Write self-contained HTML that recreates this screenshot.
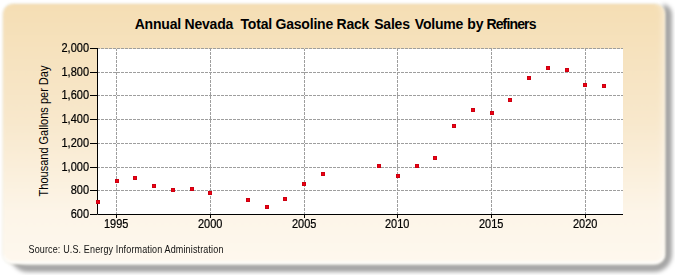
<!DOCTYPE html><html><head><meta charset="utf-8"><style>
*{margin:0;padding:0;box-sizing:border-box}
html,body{width:675px;height:275px;background:#fff;overflow:hidden;position:relative;font-family:"Liberation Sans",sans-serif}
.shadow{position:absolute;left:10px;top:4px;width:661.5px;height:268px;border-radius:10px 10px 18px 18px;border-style:solid;border-color:rgba(0,0,0,0.36);border-width:0 8px 8px 0;filter:blur(2.2px)}
.panel{position:absolute;left:2.5px;top:3.5px;width:662px;height:260.5px;border-radius:10px;
 background:linear-gradient(to bottom,#f5deb4 0%,#f8e8cc 45%,#fdf5e8 80%,#fef8ee 100%);
 box-shadow:inset 0 -2.5px 1.5px rgba(255,255,255,0.8),inset -7px 0 5px -3px rgba(255,255,255,0.3),0 0 0 1px rgba(170,165,120,0.18);filter:blur(1.3px)}
.tw{position:absolute;top:14.5px;font-weight:bold;font-size:14px;letter-spacing:-0.2px;color:#000;line-height:18px;white-space:nowrap}
.yl{position:absolute;right:586px;transform:scaleY(1.2);font-size:11px;line-height:14px;color:#000;white-space:nowrap;text-align:right;-webkit-text-stroke:0.2px #000}
.xl{position:absolute;width:40px;transform:scaleY(1.2);font-size:11px;line-height:14px;color:#000;white-space:nowrap;text-align:center;top:216px;-webkit-text-stroke:0.2px #000}
.ytitle{position:absolute;left:42.5px;top:130.5px;font-size:11px;line-height:14px;color:#000;white-space:nowrap;transform:translate(-50%,-50%) rotate(-90deg) scaleY(1.15)}
.src{position:absolute;left:28.5px;top:242.5px;font-size:9px;letter-spacing:0.14px;transform:scaleY(1.12);line-height:14px;color:#111;white-space:nowrap}
</style></head><body>
<div class="shadow"></div><div class="panel"></div>
<span class="tw" style="left:134.70px;">Annual</span>
<span class="tw" style="left:184.50px;">Nevada</span>
<span class="tw" style="left:240.50px;">Total</span>
<span class="tw" style="left:275.50px;">Gasoline</span>
<span class="tw" style="left:336.50px;">Rack</span>
<span class="tw" style="left:374.20px;">Sales</span>
<span class="tw" style="left:414.80px;">Volume</span>
<span class="tw" style="left:467.30px;">by</span>
<span class="tw" style="left:486.40px;letter-spacing:-0.85px;">Refiners</span>
<svg width="675" height="275" style="position:absolute;left:0;top:0"><rect x="98" y="49" width="525" height="165" fill="#fff"/><line x1="98" y1="48.5" x2="623" y2="48.5" stroke="#9e9e9e" stroke-width="1" stroke-dasharray="3 1" stroke-dashoffset="1"/><line x1="98" y1="72.5" x2="623" y2="72.5" stroke="#9e9e9e" stroke-width="1" stroke-dasharray="3 1" stroke-dashoffset="1"/><line x1="98" y1="95.5" x2="623" y2="95.5" stroke="#9e9e9e" stroke-width="1" stroke-dasharray="3 1" stroke-dashoffset="1"/><line x1="98" y1="119.5" x2="623" y2="119.5" stroke="#9e9e9e" stroke-width="1" stroke-dasharray="3 1" stroke-dashoffset="1"/><line x1="98" y1="143.5" x2="623" y2="143.5" stroke="#9e9e9e" stroke-width="1" stroke-dasharray="3 1" stroke-dashoffset="1"/><line x1="98" y1="167.5" x2="623" y2="167.5" stroke="#9e9e9e" stroke-width="1" stroke-dasharray="3 1" stroke-dashoffset="1"/><line x1="98" y1="190.5" x2="623" y2="190.5" stroke="#9e9e9e" stroke-width="1" stroke-dasharray="3 1" stroke-dashoffset="1"/><line x1="116.5" y1="49" x2="116.5" y2="214" stroke="#9e9e9e" stroke-width="1" stroke-dasharray="3 1" stroke-dashoffset="1"/><line x1="210.5" y1="49" x2="210.5" y2="214" stroke="#9e9e9e" stroke-width="1" stroke-dasharray="3 1" stroke-dashoffset="1"/><line x1="304.5" y1="49" x2="304.5" y2="214" stroke="#9e9e9e" stroke-width="1" stroke-dasharray="3 1" stroke-dashoffset="1"/><line x1="397.5" y1="49" x2="397.5" y2="214" stroke="#9e9e9e" stroke-width="1" stroke-dasharray="3 1" stroke-dashoffset="1"/><line x1="491.5" y1="49" x2="491.5" y2="214" stroke="#9e9e9e" stroke-width="1" stroke-dasharray="3 1" stroke-dashoffset="1"/><line x1="585.5" y1="49" x2="585.5" y2="214" stroke="#9e9e9e" stroke-width="1" stroke-dasharray="3 1" stroke-dashoffset="1"/><path d="M97.5 48 V214.5 H623" fill="none" stroke="#000" stroke-width="1"/><line x1="90" y1="48.5" x2="97" y2="48.5" stroke="#000" stroke-width="1"/><line x1="90" y1="72.5" x2="97" y2="72.5" stroke="#000" stroke-width="1"/><line x1="90" y1="95.5" x2="97" y2="95.5" stroke="#000" stroke-width="1"/><line x1="90" y1="119.5" x2="97" y2="119.5" stroke="#000" stroke-width="1"/><line x1="90" y1="143.5" x2="97" y2="143.5" stroke="#000" stroke-width="1"/><line x1="90" y1="167.5" x2="97" y2="167.5" stroke="#000" stroke-width="1"/><line x1="90" y1="190.5" x2="97" y2="190.5" stroke="#000" stroke-width="1"/><line x1="90" y1="214.5" x2="97" y2="214.5" stroke="#000" stroke-width="1"/><line x1="116.5" y1="215" x2="116.5" y2="218" stroke="#000" stroke-width="1"/><line x1="210.5" y1="215" x2="210.5" y2="218" stroke="#000" stroke-width="1"/><line x1="304.5" y1="215" x2="304.5" y2="218" stroke="#000" stroke-width="1"/><line x1="397.5" y1="215" x2="397.5" y2="218" stroke="#000" stroke-width="1"/><line x1="491.5" y1="215" x2="491.5" y2="218" stroke="#000" stroke-width="1"/><line x1="585.5" y1="215" x2="585.5" y2="218" stroke="#000" stroke-width="1"/><rect x="96" y="200" width="4" height="4" fill="#f00010"/><rect x="96.5" y="200.5" width="3" height="3" fill="none" stroke="rgba(160,0,20,0.45)" stroke-width="1"/><rect x="115" y="179" width="4" height="4" fill="#f00010"/><rect x="115.5" y="179.5" width="3" height="3" fill="none" stroke="rgba(160,0,20,0.45)" stroke-width="1"/><rect x="133" y="176" width="4" height="4" fill="#f00010"/><rect x="133.5" y="176.5" width="3" height="3" fill="none" stroke="rgba(160,0,20,0.45)" stroke-width="1"/><rect x="152" y="184" width="4" height="4" fill="#f00010"/><rect x="152.5" y="184.5" width="3" height="3" fill="none" stroke="rgba(160,0,20,0.45)" stroke-width="1"/><rect x="171" y="188" width="4" height="4" fill="#f00010"/><rect x="171.5" y="188.5" width="3" height="3" fill="none" stroke="rgba(160,0,20,0.45)" stroke-width="1"/><rect x="190" y="187" width="4" height="4" fill="#f00010"/><rect x="190.5" y="187.5" width="3" height="3" fill="none" stroke="rgba(160,0,20,0.45)" stroke-width="1"/><rect x="208" y="191" width="4" height="4" fill="#f00010"/><rect x="208.5" y="191.5" width="3" height="3" fill="none" stroke="rgba(160,0,20,0.45)" stroke-width="1"/><rect x="246" y="198" width="4" height="4" fill="#f00010"/><rect x="246.5" y="198.5" width="3" height="3" fill="none" stroke="rgba(160,0,20,0.45)" stroke-width="1"/><rect x="265" y="205" width="4" height="4" fill="#f00010"/><rect x="265.5" y="205.5" width="3" height="3" fill="none" stroke="rgba(160,0,20,0.45)" stroke-width="1"/><rect x="283" y="197" width="4" height="4" fill="#f00010"/><rect x="283.5" y="197.5" width="3" height="3" fill="none" stroke="rgba(160,0,20,0.45)" stroke-width="1"/><rect x="302" y="182" width="4" height="4" fill="#f00010"/><rect x="302.5" y="182.5" width="3" height="3" fill="none" stroke="rgba(160,0,20,0.45)" stroke-width="1"/><rect x="321" y="172" width="4" height="4" fill="#f00010"/><rect x="321.5" y="172.5" width="3" height="3" fill="none" stroke="rgba(160,0,20,0.45)" stroke-width="1"/><rect x="377" y="164" width="4" height="4" fill="#f00010"/><rect x="377.5" y="164.5" width="3" height="3" fill="none" stroke="rgba(160,0,20,0.45)" stroke-width="1"/><rect x="396" y="174" width="4" height="4" fill="#f00010"/><rect x="396.5" y="174.5" width="3" height="3" fill="none" stroke="rgba(160,0,20,0.45)" stroke-width="1"/><rect x="415" y="164" width="4" height="4" fill="#f00010"/><rect x="415.5" y="164.5" width="3" height="3" fill="none" stroke="rgba(160,0,20,0.45)" stroke-width="1"/><rect x="433" y="156" width="4" height="4" fill="#f00010"/><rect x="433.5" y="156.5" width="3" height="3" fill="none" stroke="rgba(160,0,20,0.45)" stroke-width="1"/><rect x="452" y="124" width="4" height="4" fill="#f00010"/><rect x="452.5" y="124.5" width="3" height="3" fill="none" stroke="rgba(160,0,20,0.45)" stroke-width="1"/><rect x="471" y="108" width="4" height="4" fill="#f00010"/><rect x="471.5" y="108.5" width="3" height="3" fill="none" stroke="rgba(160,0,20,0.45)" stroke-width="1"/><rect x="490" y="111" width="4" height="4" fill="#f00010"/><rect x="490.5" y="111.5" width="3" height="3" fill="none" stroke="rgba(160,0,20,0.45)" stroke-width="1"/><rect x="508" y="98" width="4" height="4" fill="#f00010"/><rect x="508.5" y="98.5" width="3" height="3" fill="none" stroke="rgba(160,0,20,0.45)" stroke-width="1"/><rect x="527" y="76" width="4" height="4" fill="#f00010"/><rect x="527.5" y="76.5" width="3" height="3" fill="none" stroke="rgba(160,0,20,0.45)" stroke-width="1"/><rect x="546" y="66" width="4" height="4" fill="#f00010"/><rect x="546.5" y="66.5" width="3" height="3" fill="none" stroke="rgba(160,0,20,0.45)" stroke-width="1"/><rect x="565" y="68" width="4" height="4" fill="#f00010"/><rect x="565.5" y="68.5" width="3" height="3" fill="none" stroke="rgba(160,0,20,0.45)" stroke-width="1"/><rect x="583" y="83" width="4" height="4" fill="#f00010"/><rect x="583.5" y="83.5" width="3" height="3" fill="none" stroke="rgba(160,0,20,0.45)" stroke-width="1"/><rect x="602" y="84" width="4" height="4" fill="#f00010"/><rect x="602.5" y="84.5" width="3" height="3" fill="none" stroke="rgba(160,0,20,0.45)" stroke-width="1"/></svg>
<div class="yl" style="top:40.4px">2,000</div>
<div class="yl" style="top:64.4px">1,800</div>
<div class="yl" style="top:87.4px">1,600</div>
<div class="yl" style="top:111.4px">1,400</div>
<div class="yl" style="top:135.4px">1,200</div>
<div class="yl" style="top:159.4px">1,000</div>
<div class="yl" style="top:182.4px">800</div>
<div class="yl" style="top:206.4px">600</div>
<div class="xl" style="left:96.2px">1995</div>
<div class="xl" style="left:190.2px">2000</div>
<div class="xl" style="left:284.2px">2005</div>
<div class="xl" style="left:377.2px">2010</div>
<div class="xl" style="left:471.2px">2015</div>
<div class="xl" style="left:565.2px">2020</div>
<div class="ytitle">Thousand Gallons per Day</div>
<div class="src">Source: U.S. Energy Information Administration</div>
</body></html>
